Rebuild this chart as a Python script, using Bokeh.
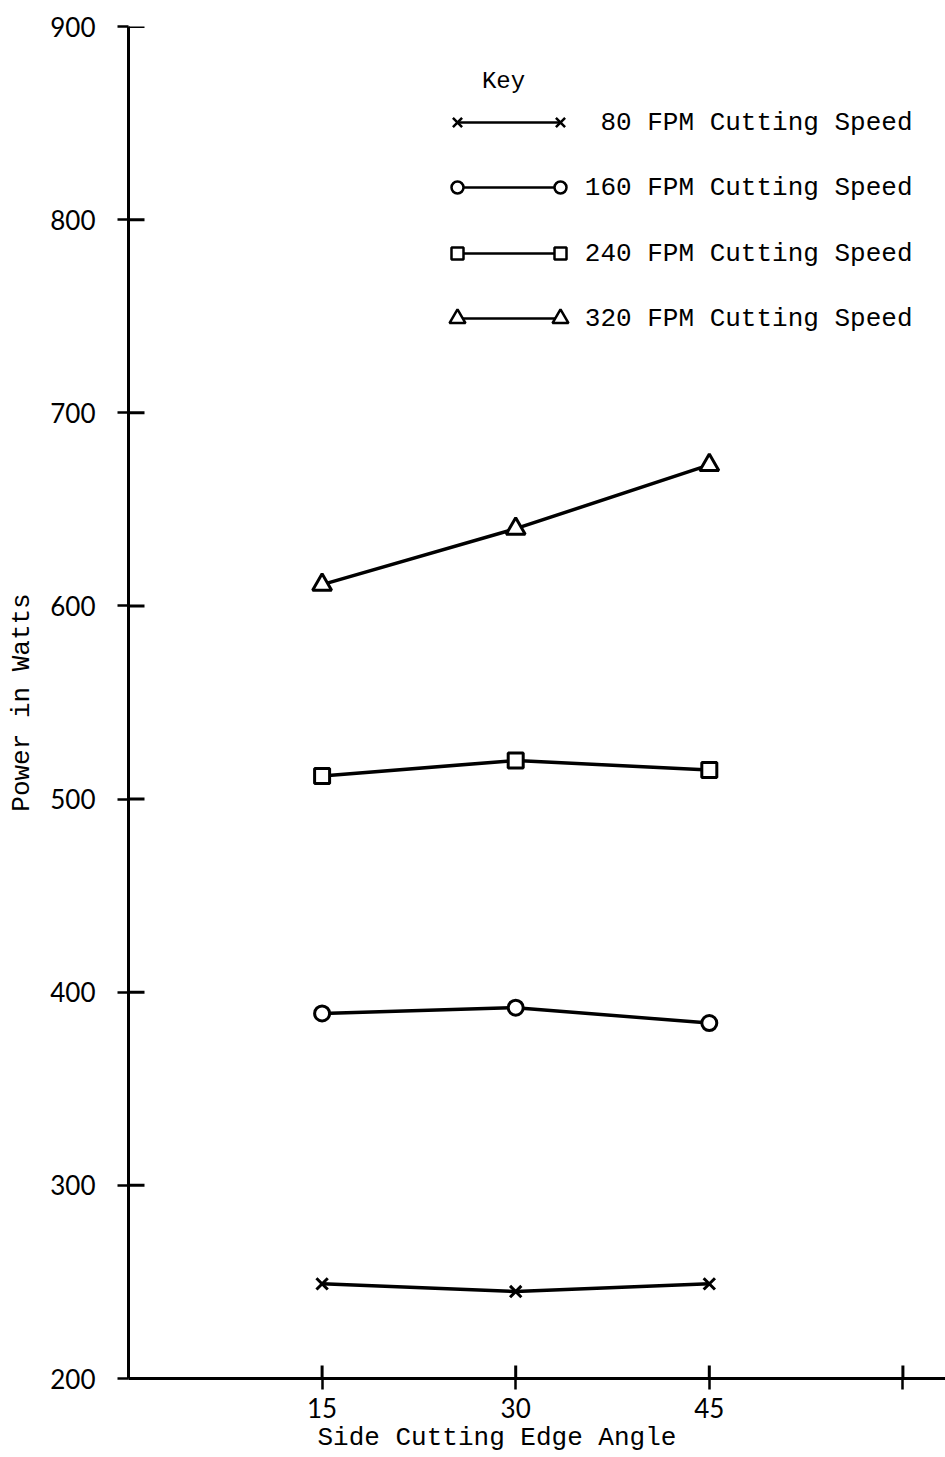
from bokeh.plotting import figure
from bokeh.models import FixedTicker, Range1d, Label, Title
from bokeh.core.properties import value
from bokeh.embed import file_html
from bokeh.resources import INLINE

# ---- data ----
angles = [15, 30, 45]
power_80 = [249, 245, 249]
power_160 = [389, 392, 384]
power_240 = [512, 520, 515]
power_320 = [611, 640, 673]
series_labels = ["80 FPM Cutting Speed", "160 FPM Cutting Speed",
                 "240 FPM Cutting Speed", "320 FPM Cutting Speed"]
x_ticks = [15, 30, 45, 60]
y_ticks = [200, 300, 400, 500, 600, 700, 800, 900]

MONO = "Liberation Mono"
LETTER = "Lato"

W, H = 945, 1455
LEFT, TOP, BOTTOM = 128, 26, 77
X_END = 63.3
Y0, Y1 = 200, 900

p = figure(width=W, height=H, x_range=Range1d(0, X_END), y_range=Range1d(Y0, Y1),
           output_backend="svg", toolbar_location=None,
           min_border_left=LEFT, min_border_top=TOP, min_border_bottom=BOTTOM,
           min_border_right=0)
p.outline_line_color = None
p.xgrid.grid_line_color = None
p.ygrid.grid_line_color = None
p.background_fill_color = "white"

frame_w = W - LEFT
frame_h = H - TOP - BOTTOM
px_per_x = frame_w / X_END
px_per_y = frame_h / (Y1 - Y0)

def dx(px):
    return (px - LEFT) / px_per_x
def dy(py):
    return Y0 + (TOP + frame_h - py) / px_per_y

# axes
for ax in (p.xaxis[0], p.yaxis[0]):
    ax.axis_line_width = 3
    ax.axis_line_color = "black"
    ax.major_tick_line_width = 2.5
    ax.major_tick_line_color = "black"
    ax.minor_tick_line_color = None
    ax.major_label_text_font = LETTER
    ax.major_label_text_font_size = "26px"
    ax.major_label_text_color = "black"

p.xaxis.ticker = FixedTicker(ticks=x_ticks)
p.xaxis.major_label_overrides = {60: ""}
p.xaxis.major_tick_in = 0
p.xaxis.major_tick_out = 11
p.xaxis.major_label_standoff = 8

p.yaxis.ticker = FixedTicker(ticks=y_ticks)
p.yaxis.major_tick_in = 0
p.yaxis.major_tick_out = 11
p.yaxis.major_label_standoff = 22
p.yaxis.axis_label = "Power in Watts"
p.yaxis.axis_label_text_font = MONO
p.yaxis.axis_label_text_font_size = "26px"
p.yaxis.axis_label_text_font_style = "normal"
p.yaxis.axis_label_text_color = "black"
p.yaxis.axis_label_standoff = 10

# inward tick marks (crossing ticks)
p.segment(x0=[0] * len(y_ticks), y0=y_ticks, x1=[16 / px_per_x] * len(y_ticks),
          y1=y_ticks, line_width=3, line_color="black")
p.segment(x0=x_ticks, y0=[Y0] * len(x_ticks), x1=x_ticks,
          y1=[Y0 + 13 / px_per_y] * len(x_ticks), line_width=3, line_color="black")

xlabel = Title(text="Side Cutting Edge Angle", align="left", offset=317 - LEFT,
               text_font=MONO, text_font_size="26px", text_font_style="normal",
               text_color="black", standoff=0)
p.add_layout(xlabel, "below")

# data series
markers = ["x", "circle", "square", "triangle"]
sizes = [16, 15, 15, 19]
all_series = [power_80, power_160, power_240, power_320]
for vals, m, s in zip(all_series, markers, sizes):
    p.line(angles, vals, line_width=3.5, line_color="black")
    p.scatter(angles, vals, marker=m, size=s, line_color="black",
              fill_color="white", line_width=3)

# key
p.add_layout(Label(x=dx(503), y=dy(81), text="Key", text_font=MONO,
                   text_font_size="24px", text_align="center",
                   text_baseline="middle", text_color="black"))
rows_py = [122, 187, 253, 318]
for lab, m, s, py in zip(series_labels, markers, sizes, rows_py):
    xs = [dx(457), dx(560)]
    ys = [dy(py), dy(py)]
    p.line(xs, ys, line_width=2.5, line_color="black")
    p.scatter(xs, ys, marker=m, size=s - 3, line_color="black",
              fill_color="white", line_width=2.5)
    p.add_layout(Label(x=dx(912), y=dy(py), text=lab, text_font=MONO,
                       text_font_size="26px", text_align="right",
                       text_baseline="middle", text_color="black"))

open("out.html", "w").write(file_html(p, INLINE))
